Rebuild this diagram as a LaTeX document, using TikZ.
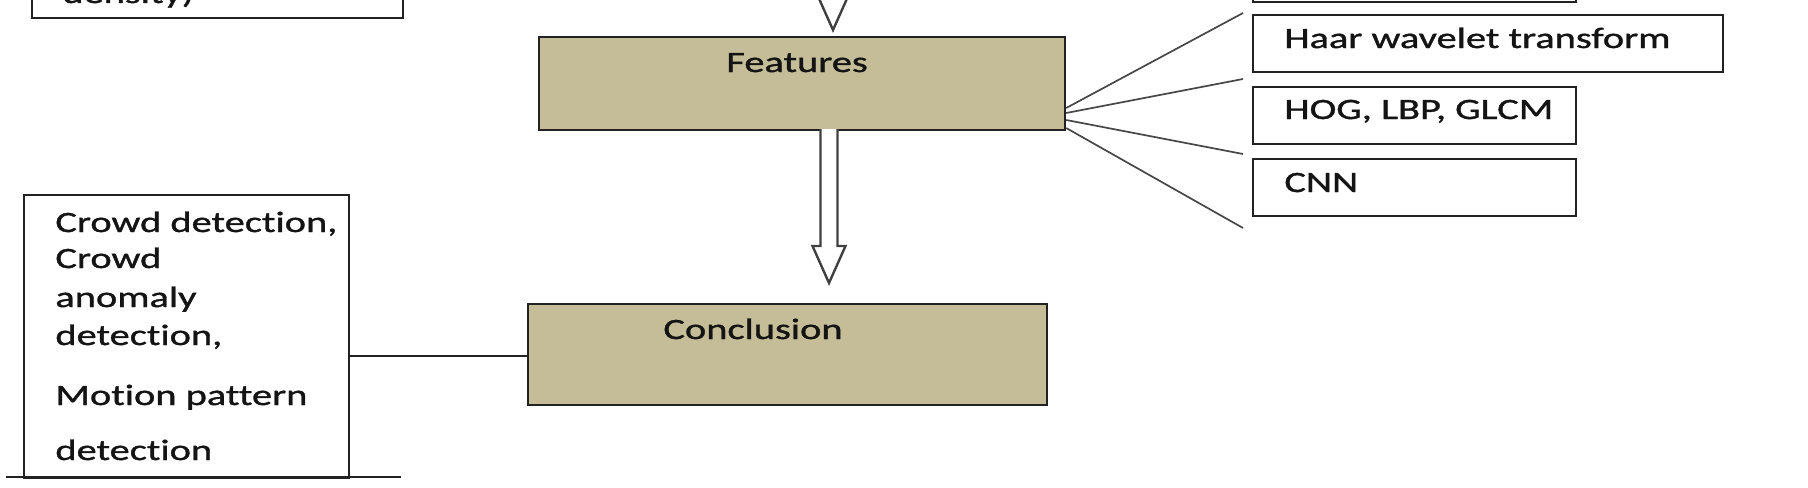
\documentclass[tikz,border=0pt]{standalone}
\usepackage{fontspec}
\setmainfont{Carlito}[FakeStretch=1.37, FakeBold=1.2, Ligatures={NoCommon}]
\usetikzlibrary{calc}
\definecolor{tanfill}{HTML}{C4BD97}
\definecolor{edge}{HTML}{222222}
\definecolor{txt}{HTML}{141414}
\tikzset{
  box/.style={draw=edge, line width=1.1pt, rectangle, inner sep=0pt, anchor=north west},
  tanbox/.style={box, fill=tanfill},
  lbl/.style={anchor=base west, inner sep=0pt, text=txt, font=\fontsize{14.75pt}{18pt}\selectfont},
  fan/.style={draw=black!72, line width=0.85pt},
  blockarrow/.style={draw=black!75, line width=1.2pt, fill=white, line join=miter},
  plain/.style={draw=edge, line width=0.9pt}
}
\begin{document}
\begin{tikzpicture}[x=0.5pt,y=-0.5pt]
\useasboundingbox (0,0) rectangle (1808,487);
\clip (0,0) rectangle (1808,487);
% top-left box (cut off at top)
\node[box, minimum width=185.5pt, minimum height=38.5pt] (topbox) at (31,-60) {};
\node[lbl] (toptext) at (62,3) {density)};
% top incoming block arrow
\coordinate (ta) at (833,30);
\draw[blockarrow] ($(ta)+(-8.5,-100)$) -- ($(ta)+(-8.5,-37)$) -- ($(ta)+(-16.5,-37)$) -- (ta) -- ($(ta)+(16.5,-37)$) -- ($(ta)+(8.5,-37)$) -- ($(ta)+(8.5,-100)$);
% Features
\node[tanbox, minimum width=263pt, minimum height=46.5pt] (feat) at (538,36) {};
\node[lbl] (feattext) at (726,72) {Features};
% Conclusion
\node[tanbox, minimum width=259.5pt, minimum height=50.5pt] (concl) at (527,303) {};
\node[lbl] (concltext) at (663,339) {Conclusion};
% arrow Features -> Conclusion
\coordinate (as) at (829,129);
\coordinate (at) at (829,283);
\draw[blockarrow] ($(as)+(-8.5,0)$) -- ($(at)+(-8.5,-37)$) -- ($(at)+(-16.5,-37)$) -- (at) -- ($(at)+(16.5,-37)$) -- ($(at)+(8.5,-37)$) -- ($(as)+(8.5,0)$);
% right boxes
\node[box, minimum width=161.5pt, minimum height=30.5pt] (above) at (1252,-60) {};
\node[box, minimum width=235pt, minimum height=28.5pt] (haar) at (1252,14) {};
\node[box, minimum width=161.5pt, minimum height=28.5pt] (hog) at (1252,86) {};
\node[box, minimum width=161.5pt, minimum height=28.5pt] (cnn) at (1252,158) {};
\node[lbl] (haartext) at (1284,48) {Haar wavelet transform};
\node[lbl] (hogtext) at (1284,119) {HOG, LBP, GLCM};
\node[lbl] (cnntext) at (1284,192) {CNN};
% fan lines
\coordinate (s1) at (1064,108);
\coordinate (s2) at (1064,113);
\coordinate (s3) at (1064,120);
\coordinate (s4) at (1064,128);
\coordinate (f1) at (1243,13);
\coordinate (f2) at (1243,79);
\coordinate (f3) at (1243,154);
\coordinate (f4) at (1243,228);
\draw[fan] (s1 -| feat.east) -- (f1);
\draw[fan] (s2 -| feat.east) -- (f2);
\draw[fan] (s3 -| feat.east) -- (f3);
\draw[fan] (s4 -| feat.east) -- (f4);
% left box
\node[box, minimum width=162.5pt, minimum height=141.5pt] (left) at (23,194) {};
\coordinate (b1) at (6,477);
\coordinate (b2) at (401,477);
\draw[plain] (b1) -- (b2);
\node[lbl] (l1) at (55,232) {Crowd detection,};
\node[lbl] (l2) at (55,268) {Crowd};
\node[lbl] (l3) at (55,307) {anomaly};
\node[lbl] (l4) at (55,345) {detection,};
\node[lbl] (l5) at (55,405) {Motion pattern};
\node[lbl] (l6) at (55,460) {detection};
% connector left box -> Conclusion
\coordinate (c1) at (348,356);
\draw[plain] (c1 -| left.east) -- (c1 -| concl.west);
\end{tikzpicture}
\end{document}
